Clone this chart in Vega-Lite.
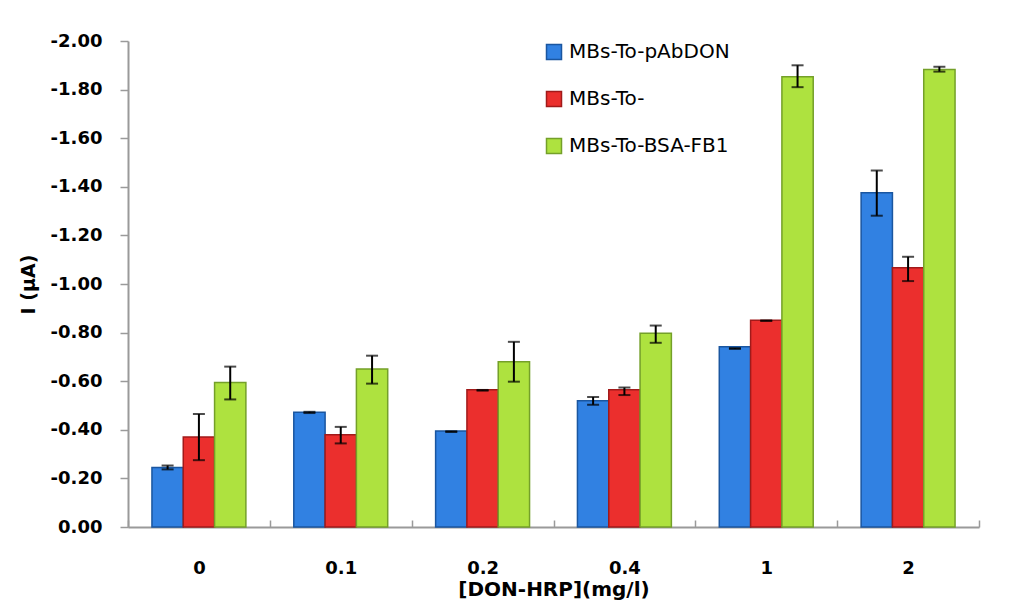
{
  "$schema": "https://vega.github.io/schema/vega-lite/v6.json",
  "width": 851,
  "height": 486,
  "autosize": {"type": "none"},
  "padding": {"left": 128, "top": 41, "right": 35, "bottom": 80},
  "background": "white",
  "config": {
    "view": {"stroke": null},
    "font": "DejaVu Sans"
  },
  "data": {
    "values": [
      {"c": "0", "s": "MBs-To-pAbDON", "v": 0.245, "lo": 0.237, "hi": 0.253},
      {"c": "0", "s": "MBs-To-", "v": 0.37, "lo": 0.275, "hi": 0.465},
      {"c": "0", "s": "MBs-To-BSA-FB1", "v": 0.595, "lo": 0.525, "hi": 0.660},
      {"c": "0.1", "s": "MBs-To-pAbDON", "v": 0.472, "lo": 0.469, "hi": 0.474},
      {"c": "0.1", "s": "MBs-To-", "v": 0.38, "lo": 0.344, "hi": 0.412},
      {"c": "0.1", "s": "MBs-To-BSA-FB1", "v": 0.65, "lo": 0.590, "hi": 0.705},
      {"c": "0.2", "s": "MBs-To-pAbDON", "v": 0.395, "lo": 0.391, "hi": 0.394},
      {"c": "0.2", "s": "MBs-To-", "v": 0.565, "lo": 0.561, "hi": 0.564},
      {"c": "0.2", "s": "MBs-To-BSA-FB1", "v": 0.68, "lo": 0.598, "hi": 0.762},
      {"c": "0.4", "s": "MBs-To-pAbDON", "v": 0.52, "lo": 0.503, "hi": 0.535},
      {"c": "0.4", "s": "MBs-To-", "v": 0.565, "lo": 0.543, "hi": 0.574},
      {"c": "0.4", "s": "MBs-To-BSA-FB1", "v": 0.797, "lo": 0.758, "hi": 0.829},
      {"c": "1", "s": "MBs-To-pAbDON", "v": 0.742, "lo": 0.733, "hi": 0.736},
      {"c": "1", "s": "MBs-To-", "v": 0.851, "lo": 0.848, "hi": 0.850},
      {"c": "1", "s": "MBs-To-BSA-FB1", "v": 1.853, "lo": 1.810, "hi": 1.900},
      {"c": "2", "s": "MBs-To-pAbDON", "v": 1.376, "lo": 1.281, "hi": 1.467},
      {"c": "2", "s": "MBs-To-", "v": 1.067, "lo": 1.012, "hi": 1.112},
      {"c": "2", "s": "MBs-To-BSA-FB1", "v": 1.883, "lo": 1.874, "hi": 1.894}
    ]
  },
  "encoding": {
    "x": {
      "field": "c",
      "type": "nominal",
      "sort": ["0", "0.1", "0.2", "0.4", "1", "2"],
      "scale": {"paddingInner": 0, "paddingOuter": 0},
      "axis": {
        "title": "[DON-HRP](mg/l)",
        "titleFont": "DejaVu Sans",
        "titleFontSize": 20,
        "titleFontWeight": "bold",
        "titleColor": "black",
        "titlePadding": 2,
        "labelAngle": 0,
        "labelFont": "DejaVu Sans",
        "labelFontSize": 18,
        "labelFontWeight": "bold",
        "labelColor": "black",
        "labelPadding": 39,
        "tickBand": "extent",
        "tickSize": -7,
        "tickColor": "#9A9A9A",
        "tickWidth": 1.5,
        "domainColor": "#9A9A9A",
        "domainWidth": 2,
        "grid": false
      }
    },
    "xOffset": {
      "field": "s",
      "type": "nominal",
      "sort": ["MBs-To-pAbDON", "MBs-To-", "MBs-To-BSA-FB1"],
      "scale": {"paddingInner": 0, "paddingOuter": 0.765}
    }
  },
  "layer": [
    {
      "mark": {"type": "bar", "strokeWidth": 1.5},
      "encoding": {
        "y": {
          "field": "v",
          "type": "quantitative",
          "scale": {"domain": [0, 2], "nice": false},
          "axis": {
            "title": "I (μA)",
            "titleFont": "DejaVu Sans",
            "titleFontSize": 19,
            "titleFontWeight": "bold",
            "titleColor": "black",
            "titleX": -100,
            "titleY": 243,
            "titleAngle": -90,
            "titleAlign": "center",
            "titleBaseline": "middle",
            "values": [0, 0.2, 0.4, 0.6, 0.8, 1.0, 1.2, 1.4, 1.6, 1.8, 2.0],
            "labelExpr": "datum.value === 0 ? '0.00' : '-' + format(datum.value, '.2f')",
            "labelFont": "DejaVu Sans",
            "labelFontSize": 18,
            "labelFontWeight": "bold",
            "labelColor": "black",
            "labelPadding": 18,
            "tickSize": 8,
            "tickColor": "#9A9A9A",
            "tickWidth": 1.5,
            "domainColor": "#9A9A9A",
            "domainWidth": 2,
            "grid": false
          }
        },
        "fill": {
          "field": "s",
          "type": "nominal",
          "scale": {
            "domain": ["MBs-To-pAbDON", "MBs-To-", "MBs-To-BSA-FB1"],
            "range": ["#3181E2", "#EB2F2D", "#AEE23F"]
          },
          "legend": {
            "title": null,
            "orient": "none",
            "legendX": 416,
            "legendY": 1,
            "padding": 0,
            "symbolType": "square",
            "symbolSize": 225,
            "symbolStrokeWidth": 1.5,
            "labelFont": "DejaVu Sans",
            "labelFontSize": 20,
            "labelColor": "black",
            "labelOffset": 5,
            "labelLimit": 0,
            "rowPadding": 25
          }
        },
        "stroke": {
          "field": "s",
          "type": "nominal",
          "scale": {
            "domain": ["MBs-To-pAbDON", "MBs-To-", "MBs-To-BSA-FB1"],
            "range": ["#1A56A0", "#A11A1A", "#74A029"]
          },
          "legend": {
            "title": null,
            "orient": "none",
            "legendX": 416,
            "legendY": 1,
            "padding": 0,
            "symbolType": "square",
            "symbolSize": 225,
            "symbolStrokeWidth": 1.5,
            "labelFont": "DejaVu Sans",
            "labelFontSize": 20,
            "labelColor": "black",
            "labelOffset": 5,
            "labelLimit": 0,
            "rowPadding": 25
          }
        }
      }
    },
    {
      "mark": {"type": "rule", "color": "black", "strokeWidth": 2},
      "encoding": {
        "y": {"field": "lo", "type": "quantitative"},
        "y2": {"field": "hi"}
      }
    },
    {
      "mark": {"type": "tick", "color": "black", "size": 12, "thickness": 2},
      "encoding": {
        "y": {"field": "lo", "type": "quantitative"}
      }
    },
    {
      "mark": {"type": "tick", "color": "black", "size": 12, "thickness": 2},
      "encoding": {
        "y": {"field": "hi", "type": "quantitative"}
      }
    }
  ]
}
